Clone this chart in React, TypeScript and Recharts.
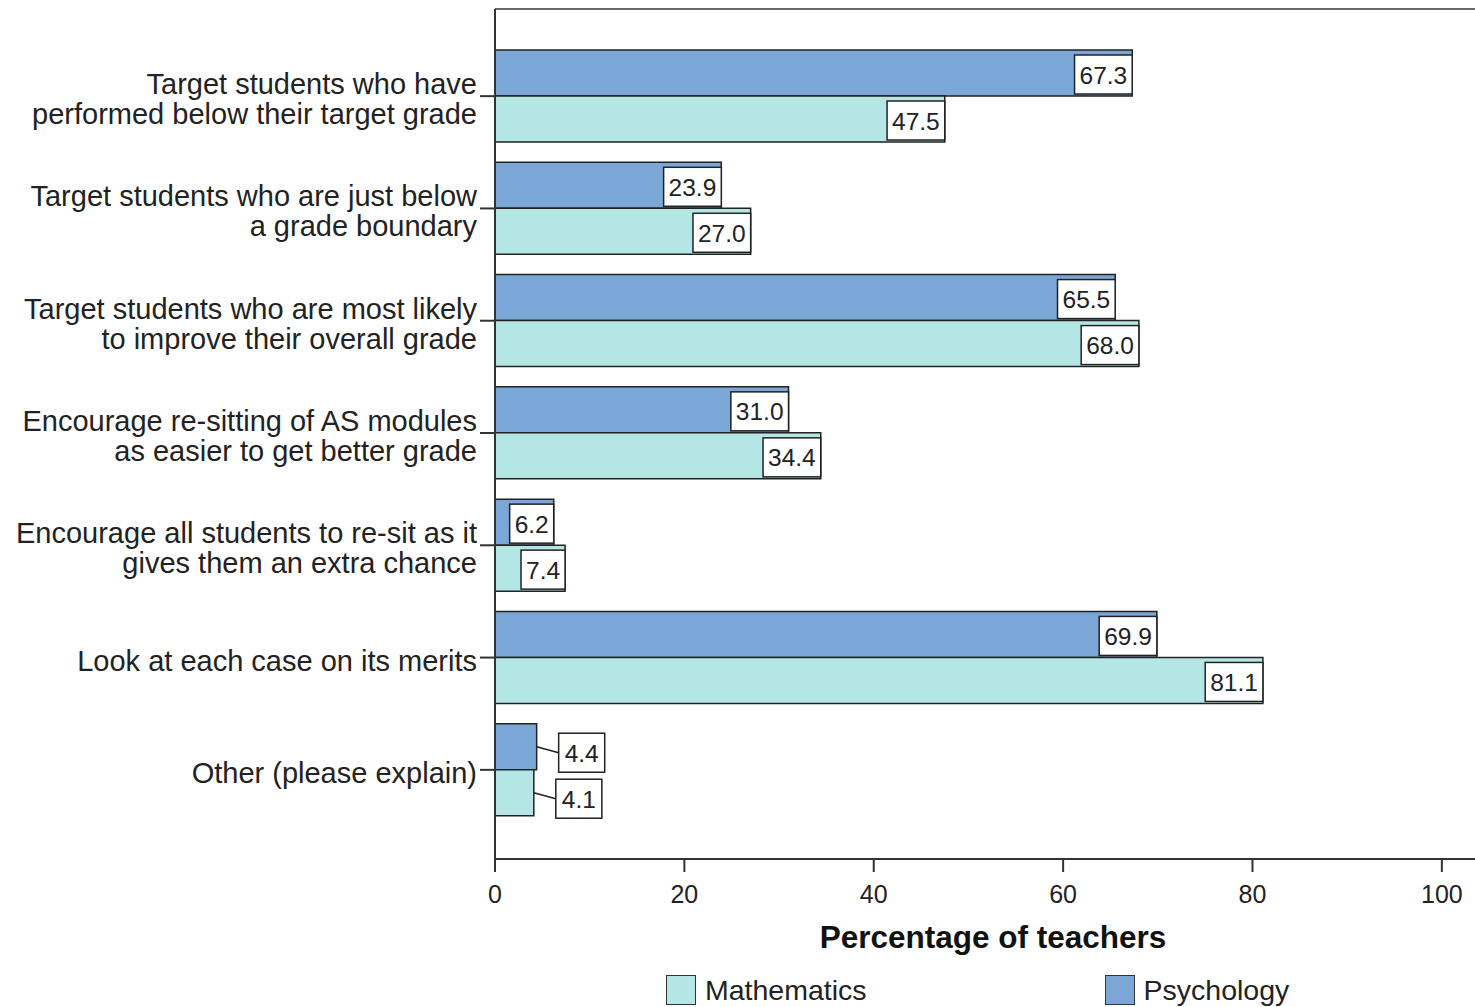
import React from "react";
import {
  Bar,
  BarChart,
  LabelList,
  Legend,
  XAxis,
  YAxis,
} from "recharts";

const categories = [
  "Target students who have\nperformed below their target grade",
  "Target students who are just below\na grade boundary",
  "Target students who are most likely\nto improve their overall grade",
  "Encourage re-sitting of AS modules\nas easier to get better grade",
  "Encourage all students to re-sit as it\ngives them an extra chance",
  "Look at each case on its merits",
  "Other (please explain)",
];
const psychology = [67.3, 23.9, 65.5, 31.0, 6.2, 69.9, 4.4];
const mathematics = [47.5, 27.0, 68.0, 34.4, 7.4, 81.1, 4.1];
const xTicks = [0, 20, 40, 60, 80, 100];

const PSY_COLOR = "#7aa7d6";
const MATH_COLOR = "#b5e6e6";
const FONT = "'Liberation Sans', Arial, sans-serif";

const data = categories.map((name, i) => ({
  name,
  psychology: psychology[i],
  mathematics: mathematics[i],
}));

const LABEL_SIZE = 24.5;

function textWidth(s: string) {
  let w = 0;
  for (const ch of s) w += ch === "." ? 0.278 : 0.556;
  return w * LABEL_SIZE;
}

function ValueLabel(props: any) {
  const vb = props.viewBox || {};
  const x = Number(props.x ?? vb.x);
  const y = Number(props.y ?? vb.y);
  const width = Number(props.width ?? vb.width);
  const height = Number(props.height ?? vb.height);
  const text = Number(props.value).toFixed(1);
  const boxW = textWidth(text) + 10;
  const boxH = 39;
  const end = x + width;
  if (width >= boxW + 6) {
    const bx = end - boxW;
    const by = y + height - boxH - 2;
    return (
      <g>
        <rect x={bx} y={by} width={boxW} height={boxH} fill="#fff" stroke="#222" strokeWidth={1.5} />
        <text x={bx + boxW / 2} y={by + boxH / 2 + 9} textAnchor="middle" fontSize={LABEL_SIZE} fill="#222" fontFamily={FONT}>
          {text}
        </text>
      </g>
    );
  }
  // too short for the box: put it outside with a leader line
  const cy = y + height / 2;
  const bx = end + 22;
  const bcy = cy + 6;
  const by = bcy - boxH / 2;
  return (
    <g>
      <line x1={end} y1={cy} x2={bx} y2={bcy} stroke="#222" strokeWidth={1.5} />
      <rect x={bx} y={by} width={boxW + 2} height={boxH} fill="#fff" stroke="#222" strokeWidth={1.5} />
      <text x={bx + boxW / 2 + 1} y={by + boxH / 2 + 9} textAnchor="middle" fontSize={LABEL_SIZE} fill="#222" fontFamily={FONT}>
        {text}
      </text>
    </g>
  );
}

function CategoryTick(props: any) {
  const { x, y, payload } = props;
  const lines = String(payload.value).split("\n");
  const n = lines.length;
  return (
    <text x={x} y={y} textAnchor="end" fontSize={29} fill="#222" fontFamily={FONT}>
      {lines.map((line, i) => (
        <tspan key={i} x={x} y={y + 13 + (i - (n - 1) / 2) * 30}>
          {line}
        </tspan>
      ))}
    </text>
  );
}

function LegendBox() {
  const items = [
    { label: "Mathematics", color: MATH_COLOR },
    { label: "Psychology", color: PSY_COLOR },
  ];
  return (
    <div style={{ display: "flex", paddingLeft: 666, paddingTop: 16, fontFamily: FONT, fontSize: 28.5, color: "#222" }}>
      {items.map((it, i) => (
        <div key={it.label} style={{ display: "flex", alignItems: "center", marginRight: i === 0 ? 238 : 0, height: 30 }}>
          <span style={{ width: 28, height: 28, background: it.color, border: "1.5px solid #333", marginRight: 9, boxSizing: "content-box" }} />
          <span style={{ lineHeight: "30px" }}>{it.label}</span>
        </div>
      ))}
    </div>
  );
}

export default function App() {
  return (
    <div style={{ position: "absolute", left: 0, top: 0, background: "#fff" }}>
      <BarChart
        width={1475}
        height={1007}
        data={data}
        layout="vertical"
        margin={{ top: 8, right: 0, bottom: 0, left: 0 }}
        barGap={0}
        barSize={46}
        style={{ fontFamily: FONT }}
      >
        <XAxis
          type="number"
          domain={[0, 103.5]}
          ticks={xTicks}
          height={100}
          tickSize={13}
          tickMargin={13}
          stroke="#333"
          strokeWidth={2}
          tick={{ fontSize: 25, fill: "#222", fontFamily: FONT }}
          label={{
            value: "Percentage of teachers",
            position: "insideBottom",
            offset: 11,
            dx: 8,
            style: { fontSize: 31.5, fontWeight: "bold", fill: "#111", fontFamily: FONT },
          }}
        />
        <XAxis
          xAxisId="top"
          type="number"
          orientation="top"
          domain={[0, 103.5]}
          height={1}
          tick={false}
          tickLine={false}
          stroke="#666"
          strokeWidth={2}
        />
        <YAxis
          type="category"
          dataKey="name"
          width={495}
          tickSize={15}
          tickMargin={3}
          padding={{ top: 31, bottom: 33 }}
          stroke="#333"
          strokeWidth={2}
          interval={0}
          tick={<CategoryTick />}
        />
        <Legend verticalAlign="bottom" height={48} content={() => <LegendBox />} />
        <Bar dataKey="psychology" name="Psychology" fill={PSY_COLOR} stroke="#222" strokeWidth={1.5} isAnimationActive={false}>
          <LabelList dataKey="psychology" content={<ValueLabel />} />
        </Bar>
        <Bar dataKey="mathematics" name="Mathematics" fill={MATH_COLOR} stroke="#222" strokeWidth={1.5} isAnimationActive={false}>
          <LabelList dataKey="mathematics" content={<ValueLabel />} />
        </Bar>
      </BarChart>
    </div>
  );
}
